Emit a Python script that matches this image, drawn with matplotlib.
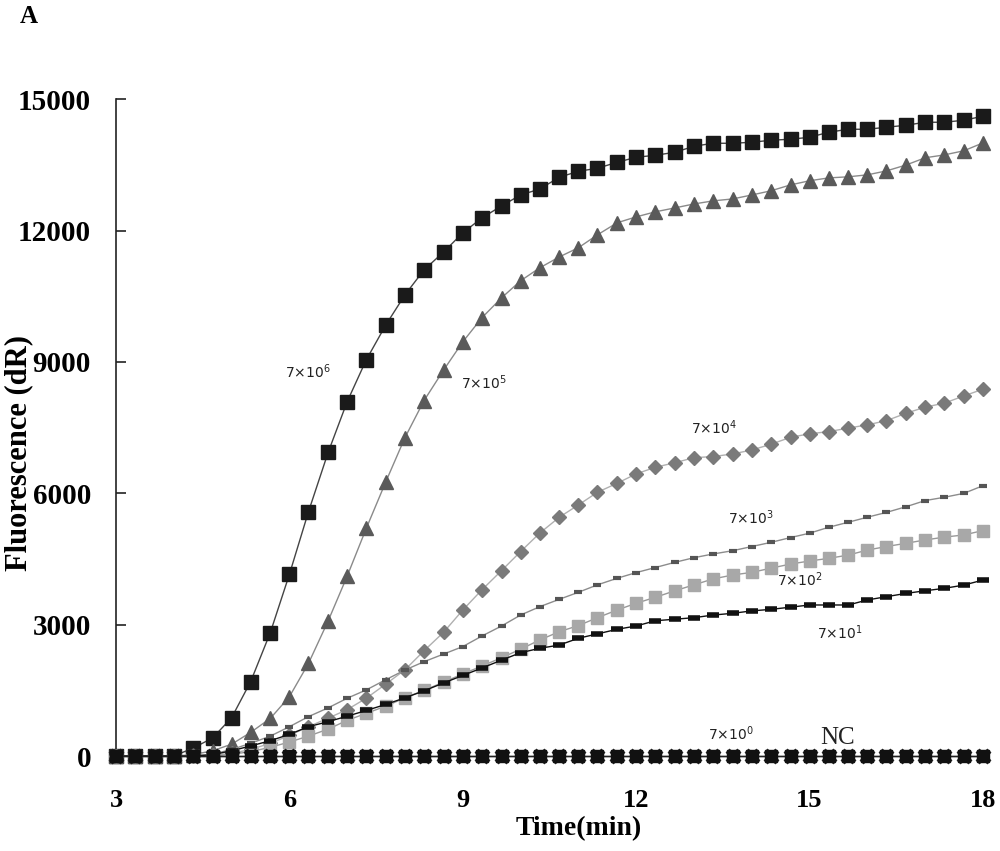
import matplotlib
matplotlib.use('Agg')
import matplotlib.pyplot as plt

# time points (min), one reading every 20 s
time_min = [3.00, 3.33, 3.67, 4.00, 4.33, 4.67, 5.00, 5.33, 5.67, 6.00,
            6.33, 6.67, 7.00, 7.33, 7.67, 8.00, 8.33, 8.67, 9.00, 9.33,
            9.67, 10.00, 10.33, 10.67, 11.00, 11.33, 11.67, 12.00, 12.33, 12.67,
            13.00, 13.33, 13.67, 14.00, 14.33, 14.67, 15.00, 15.33, 15.67, 16.00,
            16.33, 16.67, 17.00, 17.33, 17.67, 18.00]

# fluorescence (dR) per template copy number
fl_7e6 = [0, 0, 0, 0, 180, 410, 875, 1700, 2820, 4150, 5580, 6935, 8095, 9050, 9850,
          10535, 11105, 11515, 11950, 12290, 12565, 12815, 12950, 13220, 13356, 13425,
          13562, 13676, 13722, 13790, 13928, 13996, 13996, 14019, 14065, 14088, 14133,
          14248, 14316, 14316, 14362, 14408, 14476, 14476, 14522, 14614]
fl_7e5 = [0, 0, 0, 0, 30, 120, 270, 540, 860, 1355, 2115, 3085, 4110, 5200, 6270,
          7275, 8120, 8820, 9460, 10010, 10465, 10855, 11150, 11400, 11610, 11905,
          12180, 12315, 12430, 12520, 12610, 12680, 12725, 12815, 12910, 13045, 13140,
          13205, 13230, 13275, 13365, 13500, 13665, 13730, 13825, 14005]
fl_7e4 = [0, 0, 0, 0, 0, 20, 60, 150, 290, 470, 670, 865, 1060, 1320, 1645, 1970,
          2405, 2830, 3335, 3795, 4235, 4670, 5090, 5455, 5735, 6025, 6230, 6445,
          6595, 6700, 6815, 6840, 6900, 6990, 7120, 7280, 7360, 7410, 7490, 7565,
          7660, 7830, 7970, 8060, 8225, 8380]
fl_7e3 = [0, 0, 0, 0, 0, 40, 150, 290, 455, 670, 900, 1100, 1320, 1510, 1745, 1965,
          2155, 2330, 2500, 2740, 2970, 3220, 3410, 3580, 3740, 3910, 4060, 4190,
          4305, 4425, 4530, 4615, 4690, 4785, 4880, 4990, 5090, 5225, 5340, 5455,
          5565, 5695, 5835, 5910, 6000, 6175]
fl_7e2 = [0, 0, 0, 0, 0, 0, 40, 100, 200, 320, 455, 615, 815, 975, 1140, 1330,
          1500, 1690, 1875, 2055, 2245, 2440, 2650, 2840, 2980, 3160, 3335, 3490,
          3625, 3775, 3910, 4045, 4135, 4195, 4290, 4385, 4455, 4515, 4590, 4705,
          4785, 4860, 4935, 5000, 5050, 5150]
fl_7e1 = [0, 0, 0, 0, 0, 30, 120, 230, 350, 495, 670, 785, 910, 1040, 1180, 1330,
          1490, 1670, 1840, 2010, 2190, 2360, 2460, 2535, 2690, 2790, 2895, 2970,
          3090, 3125, 3160, 3220, 3260, 3315, 3350, 3400, 3450, 3450, 3450, 3565,
          3640, 3715, 3775, 3830, 3905, 4020]
fl_7e0 = [0] * 46
fl_nc = [0] * 46

plt.rcParams['mathtext.default'] = 'regular'

fig = plt.figure(figsize=(10, 8.51), dpi=100)
ax = fig.add_axes([0.116, 0.1116, 0.867, 0.7717])

# (data, marker, marker size, face colour, line colour)
styles = [
    (fl_7e6, 's', 9.5, '#1a1a1a', '#444444'),
    (fl_7e5, '^', 10, '#5a5a5a', '#8a8a8a'),
    (fl_7e4, 'D', 7.2, '#7a7a7a', '#b0b0b0'),
    (fl_7e2, 's', 9, '#a8a8a8', '#999999'),
]
for vals, mk, ms, fc, lc in styles:
    ax.plot(time_min, vals, color=lc, lw=1.0, marker=mk, ms=ms,
            mfc=fc, mec=fc, clip_on=False, zorder=3)

# small dash markers
ax.plot(time_min, fl_7e3, color='#8c8c8c', lw=1.0, marker='_', ms=6,
        mew=3, mec='#555555', clip_on=False, zorder=3)
ax.plot(time_min, fl_7e1, color='#111111', lw=1.0, marker='_', ms=9,
        mew=4, mec='#111111', clip_on=False, zorder=3)

# baseline: 7x10^0 and NC
ax.plot(time_min, fl_7e0, color='#222222', lw=1.0, marker='X', ms=10.5,
        mfc='#222222', mec='#222222', clip_on=False, zorder=4)
ax.plot(time_min, fl_nc, color='#222222', lw=1.0, marker='s', ms=9,
        mfc='#111111', mec='#111111', clip_on=False, zorder=5)

# labels on curves
lab_font = dict(fontsize=10, family='DejaVu Sans', color='#222222', va='center')
ax.text(5.92, 8775, '7×10$^{6}$', **lab_font)
ax.text(8.97, 8520, '7×10$^{5}$', **lab_font)
ax.text(12.94, 7495, '7×10$^{4}$', **lab_font)
ax.text(13.58, 5440, '7×10$^{3}$', **lab_font)
ax.text(14.44, 4020, '7×10$^{2}$', **lab_font)
ax.text(15.13, 2810, '7×10$^{1}$', **lab_font)
ax.text(13.25, 500, '7×10$^{0}$', **lab_font)
ax.text(15.19, 420, 'NC', fontsize=18, family='Liberation Serif',
        color='#222222', va='center')

ax.set_xlim(3, 18)
ax.set_ylim(0, 15000)
ax.set_xticks([3, 6, 9, 12, 15, 18])
ax.set_yticks([0, 3000, 6000, 9000, 12000, 15000])

for s in ['top', 'right', 'bottom']:
    ax.spines[s].set_visible(False)
ax.spines['left'].set_color('#222222')
ax.spines['left'].set_linewidth(1.2)

ax.tick_params(axis='y', direction='in', length=7, width=1.2, pad=18,
               colors='#222222', labelcolor='black')
ax.tick_params(axis='x', length=0, pad=24)
for lab in ax.get_yticklabels():
    lab.set_family('Liberation Serif')
    lab.set_fontweight('bold')
    lab.set_fontsize(21)
for lab in ax.get_xticklabels():
    lab.set_family('Liberation Serif')
    lab.set_fontweight('bold')
    lab.set_fontsize(19)

fig.text(0.579, 0.0265, 'Time(min)', ha='center', va='center',
         family='Liberation Serif', fontweight='bold', fontsize=20)
fig.text(0.019, 0.468, 'Fluorescence (dR)', rotation=90, ha='center',
         va='center', family='Liberation Serif', fontweight='bold', fontsize=22)
fig.text(0.02, 0.981, 'A', family='Liberation Serif', fontweight='bold',
         fontsize=18, va='center')

fig.savefig('out.png', dpi=100)
